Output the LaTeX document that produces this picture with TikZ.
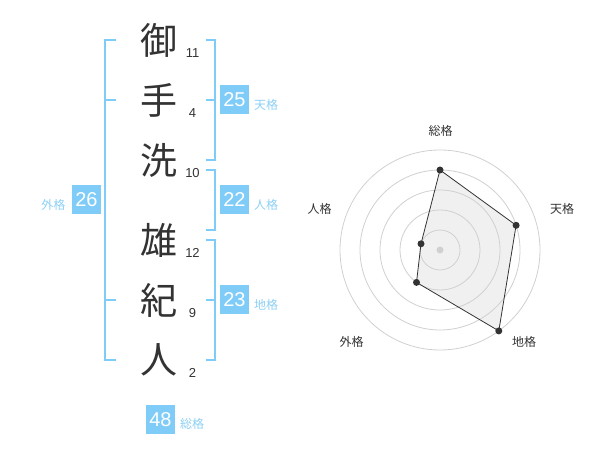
\documentclass[tikz,border=0pt]{standalone}
\usepackage{fontspec}
\setmainfont{Liberation Sans}
\newfontfamily\jp{Noto Sans CJK JP}
\definecolor{kakublue}{RGB}{128,204,248}
\definecolor{labelblue}{RGB}{140,208,246}
\definecolor{inkgray}{RGB}{51,51,51}
\definecolor{ringgray}{RGB}{208,208,208}
\tikzset{
  kanji/.style={inner sep=0pt, text=inkgray, font=\jp\fontsize{37}{37}\selectfont},
  strokes/.style={inner sep=0pt, text=inkgray, font=\fontsize{13}{13}\selectfont},
  kakubox/.style={fill=kakublue, text=white, minimum size=29pt, inner sep=0pt, font=\fontsize{20}{20}\selectfont},
  kakulabel/.style={inner sep=0pt, text=labelblue, font=\jp\fontsize{12}{12}\selectfont},
  bracket/.style={draw=kakublue, line width=2.2pt},
  ring/.style={draw=ringgray, line width=0.8pt},
  axislabel/.style={inner sep=0pt, text=inkgray, font=\jp\fontsize{12}{12}\selectfont},
  dot/.style={circle, fill=inkgray, inner sep=0pt, minimum size=7pt},
}

\begin{document}
\begin{tikzpicture}[x=1pt, y=-1pt]
    \useasboundingbox (0,0) rectangle (600,470);
    \begin{scope}
      % name, one character per row
      \node[kanji] (k1) at (159, 40) {御};
      \node[kanji] (k2) at (159, 100) {手};
      \node[kanji] (k3) at (159, 160) {洗};
      \node[kanji] (k4) at (159, 240) {雄};
      \node[kanji] (k5) at (159, 300) {紀};
      \node[kanji] (k6) at (159, 360) {人};
      \node[strokes] (n1) at (192.5, 53) {11};
      \node[strokes] (n2) at (192.5, 113) {4};
      \node[strokes] (n3) at (192.5, 173) {10};
      \node[strokes] (n4) at (192.5, 253) {12};
      \node[strokes] (n5) at (192.5, 313) {9};
      \node[strokes] (n6) at (192.5, 373) {2};

      % brackets
      \draw[bracket] (116, 40) -- (105, 40) -- (105, 360) -- (116, 360);
      \draw[bracket] (105, 100) -- (116, 100);
      \draw[bracket] (105, 300) -- (116, 300);
      \draw[bracket] (206, 40) -- (215, 40) -- (215, 160) -- (206, 160);
      \draw[bracket] (206, 100) -- (215, 100);
      \draw[bracket] (206, 170) -- (215, 170) -- (215, 230) -- (206, 230);
      \draw[bracket] (206, 240) -- (215, 240) -- (215, 360) -- (206, 360);
      \draw[bracket] (206, 300) -- (215, 300);

      % five grids
      \node[kakubox] (ten) at (234.5, 100) {25};
      \node[kakulabel] at (266, 104.5) {天格};
      \node[kakubox] (jin) at (234.5, 200) {22};
      \node[kakulabel] at (266, 204.5) {人格};
      \node[kakubox] (chi) at (234.5, 300) {23};
      \node[kakulabel] at (266, 304.5) {地格};
      \node[kakubox] (gai) at (86.5, 200) {26};
      \node[kakulabel] at (53.5, 204.5) {外格};
      \node[kakubox] (sou) at (160.5, 419.5) {48};
      \node[kakulabel] at (192, 423.5) {総格};
    \end{scope}

    \begin{scope}
      % radar chart
      \coordinate (cen) at (440, 250);
      \coordinate (ps) at (440, 170);
      \coordinate (pt) at (516.1, 225.3);
      \coordinate (pc) at (498.8, 330.9);
      \coordinate (pg) at (416.5, 282.4);
      \coordinate (pj) at (421, 243.8);
      \fill[black, fill opacity=0.06] (ps) -- (pt) -- (pc) -- (pg) -- (pj) -- cycle;
      \draw[ring] (cen) circle[radius=20];
      \draw[ring] (cen) circle[radius=40];
      \draw[ring] (cen) circle[radius=60];
      \draw[ring] (cen) circle[radius=80];
      \draw[ring] (cen) circle[radius=100];
      \draw[inkgray, line width=0.8pt] (ps) -- (pt) -- (pc) -- (pg) -- (pj) -- cycle;
      \node[dot, fill=ringgray] at (cen) {};
      \node[dot] (ds) at (ps) {};
      \node[dot] (dt) at (pt) {};
      \node[dot] (dc) at (pc) {};
      \node[dot] (dg) at (pg) {};
      \node[dot] (dj) at (pj) {};
      \node[axislabel] (ls) at (440.5, 130.5) {総格};
      \node[axislabel] (lt) at (562, 208.5) {天格};
      \node[axislabel] (lc) at (524, 341.5) {地格};
      \node[axislabel] (lg) at (351.5, 342) {外格};
      \node[axislabel] (lj) at (319.5, 209) {人格};
    \end{scope}
  \end{tikzpicture}
\end{document}
